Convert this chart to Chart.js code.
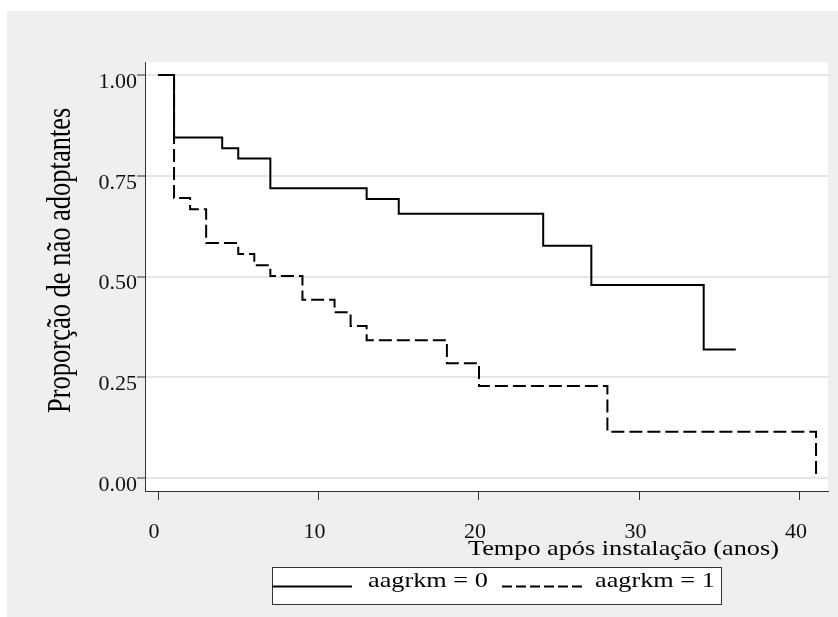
<!DOCTYPE html>
<html>
<head>
<meta charset="utf-8">
<script src="https://cdn.jsdelivr.net/npm/chart.js@4"></script>
<style>
  html, body { margin: 0; padding: 0; background: #ffffff; }
  #frame { position: absolute; left: 7px; top: 11px; width: 831px; height: 606px; background: #efefef; }
  canvas { display: block; }
</style>
</head>
<body>
<div id="frame"><canvas id="km" width="831" height="606"></canvas></div>
<script>
// Kaplan-Meier survival estimates per group
const groupLabels = ['aagrkm = 0', 'aagrkm = 1'];
const timesGroup0 = [0, 1, 4, 5, 7, 13, 15, 24, 27, 34, 36];
const survGroup0  = [1, 0.845, 0.818, 0.793, 0.719, 0.692, 0.656, 0.576, 0.479, 0.319, 0.319];
const timesGroup1 = [0, 1, 2, 3, 5, 6, 7, 9, 11, 12, 13, 18, 20, 28, 41];
const survGroup1  = [1, 0.695, 0.667, 0.583, 0.556, 0.528, 0.501, 0.442, 0.411, 0.377, 0.342, 0.285, 0.228, 0.115, 0];

const xTicks = [0, 10, 20, 30, 40];
const yTicks = [0, 0.25, 0.5, 0.75, 1];
const xTitle = 'Tempo após instalação (anos)';
const yTitle = 'Proporção de não adoptantes';

const SERIF = "'Liberation Serif', 'Times New Roman', serif";
const TEXT_STRETCH = 1.25;

function toPoints(xs, ys) {
  return xs.map((t, i) => ({ x: t, y: ys[i] }));
}

// white plotting region
const plotBackground = {
  id: 'plotBackground',
  beforeDraw(chart) {
    const { ctx, chartArea: a } = chart;
    ctx.save();
    ctx.fillStyle = '#ffffff';
    ctx.fillRect(a.left, a.top, a.right - a.left, a.bottom - a.top);
    ctx.restore();
  }
};

function wideText(ctx, text, x, y, size, rotate) {
  ctx.save();
  ctx.translate(x, y);
  ctx.scale(TEXT_STRETCH, 1);
  if (rotate) ctx.rotate(-Math.PI / 2);
  ctx.font = size + 'px ' + SERIF;
  ctx.fillStyle = '#000000';
  ctx.textAlign = 'left';
  ctx.textBaseline = 'alphabetic';
  ctx.fillText(text, 0, 0);
  ctx.restore();
}

// axis titles and the legend box underneath
const decorations = {
  id: 'decorations',
  afterDraw(chart) {
    const ctx = chart.ctx;
    wideText(ctx, yTitle, 63, 402, 26.5, true);
    wideText(ctx, xTitle, 461, 544, 21, false);

    // legend
    ctx.save();
    ctx.fillStyle = '#ffffff';
    ctx.fillRect(265, 556, 449, 37);
    ctx.strokeStyle = '#333333';
    ctx.lineWidth = 1;
    ctx.strokeRect(265.5, 556.5, 449, 37);

    ctx.strokeStyle = '#000000';
    ctx.lineWidth = 2;
    ctx.beginPath();
    ctx.moveTo(265, 575.5);
    ctx.lineTo(345, 575.5);
    ctx.stroke();

    ctx.setLineDash([10, 4]);
    ctx.beginPath();
    ctx.moveTo(495, 575.5);
    ctx.lineTo(577, 575.5);
    ctx.stroke();
    ctx.restore();

    const ds = chart.data.datasets;
    wideText(ctx, ds[0].label, 361, 576, 21, false);
    wideText(ctx, ds[1].label, 588, 576, 21, false);
  }
};

new Chart(document.getElementById('km'), {
  type: 'line',
  data: {
    datasets: [
      {
        label: groupLabels[0],
        data: toPoints(timesGroup0, survGroup0),
        borderColor: '#000000',
        borderWidth: 2,
        stepped: 'before',
        pointRadius: 0,
        fill: false
      },
      {
        label: groupLabels[1],
        data: toPoints(timesGroup1, survGroup1),
        borderColor: '#000000',
        borderWidth: 2,
        borderDash: [13, 5],
        stepped: 'before',
        pointRadius: 0,
        fill: false
      }
    ]
  },
  options: {
    responsive: false,
    animation: false,
    devicePixelRatio: 1,
    layout: { padding: { left: 0, top: 51, right: 10, bottom: 0 } },
    plugins: {
      legend: { display: false },
      tooltip: { enabled: false }
    },
    scales: {
      x: {
        type: 'linear',
        min: -0.81,
        max: 41.745,
        afterBuildTicks: s => { s.ticks = xTicks.map(v => ({ value: v })); },
        afterFit: s => { s.height = 126; },
        grid: { display: true, drawOnChartArea: false, drawTicks: true, tickLength: 9, tickColor: '#333333', tickWidth: 1 },
        border: { display: true, color: '#333333', width: 1 },
        ticks: {
          font: { family: SERIF, size: 22 },
          color: '#111111',
          padding: 19,
          labelOffset: -4,
          maxRotation: 0,
          autoSkip: false,
          callback: v => String(v)
        }
      },
      y: {
        type: 'linear',
        min: -0.03226,
        max: 1.03226,
        afterBuildTicks: s => { s.ticks = yTicks.map(v => ({ value: v })); },
        afterFit: s => { s.width = 138; },
        grid: { color: '#e6e6e6', lineWidth: 2, drawTicks: true, tickLength: 8, tickColor: '#333333', tickWidth: 1 },
        border: { display: true, color: '#333333', width: 1 },
        ticks: {
          font: { family: SERIF, size: 22 },
          color: '#111111',
          padding: 0,
          labelOffset: 7,
          callback: v => v.toFixed(2)
        }
      }
    }
  },
  plugins: [plotBackground, decorations]
});
</script>
</body>
</html>
